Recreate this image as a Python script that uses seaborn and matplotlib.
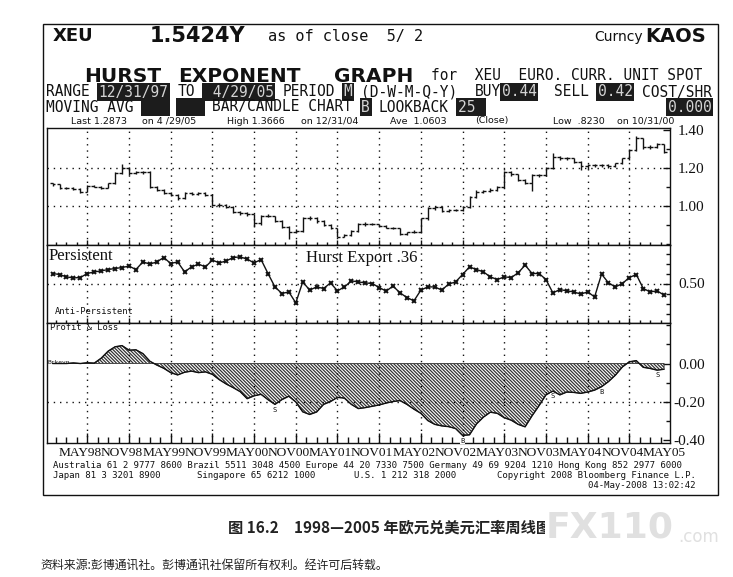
import numpy as np
import pandas as pd
import seaborn as sns
import matplotlib.pyplot as plt
from matplotlib.patches import Rectangle
from matplotlib.ticker import MultipleLocator

# monthly XEU bars, Dec 1997 .. Apr 2005
bar_open = [1.118, 1.112, 1.091, 1.091, 1.088, 1.074, 1.104, 1.100, 1.095, 1.118,
            1.170, 1.200, 1.170, 1.175, 1.179, 1.100, 1.082, 1.065, 1.056, 1.039,
            1.065, 1.061, 1.065, 1.056, 1.003, 1.003, 0.995, 0.965, 0.960, 0.954,
            0.907, 0.947, 0.945, 0.919, 0.889, 0.863, 0.866, 0.933, 0.933, 0.919,
            0.898, 0.881, 0.837, 0.846, 0.867, 0.902, 0.904, 0.902, 0.895, 0.884,
            0.881, 0.849, 0.860, 0.863, 0.933, 0.986, 0.995, 0.972, 0.977, 0.977,
            0.995, 1.047, 1.074, 1.077, 1.082, 1.100, 1.179, 1.165, 1.135, 1.118,
            1.161, 1.161, 1.200, 1.258, 1.249, 1.249, 1.232, 1.210, 1.214, 1.214,
            1.214, 1.210, 1.223, 1.249, 1.293, 1.354, 1.310, 1.310, 1.323]
bar_high = [1.122, 1.115, 1.097, 1.096, 1.092, 1.108, 1.110, 1.104, 1.122, 1.175,
            1.218, 1.205, 1.182, 1.185, 1.182, 1.105, 1.088, 1.070, 1.062, 1.070,
            1.072, 1.070, 1.070, 1.060, 1.012, 1.010, 1.000, 0.970, 0.966, 0.958,
            0.952, 0.955, 0.948, 0.923, 0.893, 0.875, 0.940, 0.945, 0.940, 0.925,
            0.904, 0.885, 0.852, 0.870, 0.910, 0.913, 0.910, 0.906, 0.898, 0.890,
            0.885, 0.862, 0.870, 0.937, 0.992, 1.000, 0.998, 0.982, 0.985, 1.000,
            1.052, 1.080, 1.085, 1.092, 1.106, 1.185, 1.185, 1.168, 1.140, 1.165,
            1.168, 1.205, 1.275, 1.262, 1.258, 1.252, 1.234, 1.220, 1.222, 1.220,
            1.220, 1.226, 1.252, 1.297, 1.367, 1.354, 1.318, 1.330, 1.325]
bar_low = [1.105, 1.088, 1.086, 1.083, 1.067, 1.070, 1.096, 1.090, 1.092, 1.115,
           1.165, 1.160, 1.165, 1.168, 1.095, 1.078, 1.060, 1.050, 1.030, 1.035,
           1.055, 1.058, 1.050, 1.000, 0.995, 0.990, 0.960, 0.952, 0.948, 0.890,
           0.900, 0.938, 0.912, 0.880, 0.823, 0.855, 0.860, 0.925, 0.910, 0.892,
           0.875, 0.833, 0.835, 0.842, 0.862, 0.895, 0.896, 0.890, 0.880, 0.876,
           0.846, 0.845, 0.855, 0.858, 0.925, 0.978, 0.965, 0.968, 0.970, 0.972,
           0.990, 1.042, 1.068, 1.072, 1.075, 1.095, 1.158, 1.130, 1.112, 1.075,
           1.150, 1.155, 1.195, 1.240, 1.240, 1.225, 1.190, 1.195, 1.205, 1.205,
           1.200, 1.205, 1.218, 1.240, 1.288, 1.300, 1.298, 1.302, 1.280]
bar_close = [1.112, 1.091, 1.091, 1.088, 1.074, 1.104, 1.100, 1.095, 1.118, 1.170,
             1.200, 1.170, 1.175, 1.179, 1.100, 1.082, 1.065, 1.056, 1.039, 1.065,
             1.061, 1.065, 1.056, 1.003, 1.003, 0.995, 0.965, 0.960, 0.954, 0.907,
             0.947, 0.945, 0.919, 0.889, 0.863, 0.866, 0.933, 0.933, 0.919, 0.898,
             0.881, 0.837, 0.846, 0.867, 0.902, 0.904, 0.902, 0.895, 0.884, 0.881,
             0.849, 0.860, 0.863, 0.933, 0.986, 0.995, 0.972, 0.977, 0.977, 0.995,
             1.047, 1.074, 1.077, 1.082, 1.100, 1.179, 1.165, 1.135, 1.118, 1.161,
             1.161, 1.200, 1.258, 1.249, 1.249, 1.232, 1.210, 1.214, 1.214, 1.214,
             1.210, 1.223, 1.249, 1.293, 1.354, 1.310, 1.310, 1.323, 1.285]
hurst = [0.550, 0.545, 0.533, 0.528, 0.530, 0.550, 0.558, 0.563, 0.570, 0.575,
         0.580, 0.587, 0.570, 0.608, 0.597, 0.608, 0.630, 0.600, 0.608, 0.558,
         0.583, 0.597, 0.583, 0.617, 0.603, 0.613, 0.630, 0.633, 0.622, 0.603,
         0.620, 0.550, 0.483, 0.450, 0.458, 0.403, 0.508, 0.467, 0.483, 0.475,
         0.503, 0.463, 0.483, 0.513, 0.508, 0.503, 0.500, 0.480, 0.462, 0.487,
         0.453, 0.430, 0.413, 0.467, 0.483, 0.483, 0.467, 0.497, 0.508, 0.545,
         0.583, 0.570, 0.558, 0.533, 0.520, 0.533, 0.530, 0.553, 0.592, 0.550,
         0.550, 0.520, 0.453, 0.470, 0.463, 0.458, 0.447, 0.458, 0.433, 0.547,
         0.503, 0.483, 0.500, 0.530, 0.545, 0.475, 0.458, 0.463, 0.442]
pnl = [0.000, 0.000, 0.000, 0.003, 0.000, 0.004, 0.002, 0.028, 0.065, 0.088,
       0.094, 0.070, 0.072, 0.052, 0.012, -0.008, -0.025, -0.048, -0.060, -0.046,
       -0.040, -0.048, -0.044, -0.057, -0.085, -0.108, -0.127, -0.148, -0.185, -0.170,
       -0.162, -0.190, -0.215, -0.190, -0.172, -0.202, -0.254, -0.268, -0.255, -0.215,
       -0.200, -0.178, -0.182, -0.215, -0.237, -0.232, -0.225, -0.218, -0.208, -0.200,
       -0.195, -0.215, -0.240, -0.262, -0.300, -0.320, -0.328, -0.332, -0.342, -0.378,
       -0.375, -0.318, -0.282, -0.256, -0.262, -0.285, -0.298, -0.320, -0.333, -0.275,
       -0.222, -0.165, -0.145, -0.165, -0.150, -0.152, -0.157, -0.150, -0.140, -0.122,
       -0.095, -0.061, -0.018, 0.009, 0.015, -0.020, -0.026, -0.035, -0.030]

month_labels = ['MAY98', 'NOV98', 'MAY99', 'NOV99', 'MAY00', 'NOV00', 'MAY01', 'NOV01',
                'MAY02', 'NOV02', 'MAY03', 'NOV03', 'MAY04', 'NOV04', 'MAY05']
signal_month = [32, 59, 72, 79, 87]
signal_text = ['S', 'B', 'S', 'B', 'S']

df = pd.DataFrame({'open': bar_open, 'high': bar_high, 'low': bar_low,
                   'close': bar_close, 'hurst': hurst, 'pnl': pnl})
df['m'] = np.arange(len(df))

W, H = 733, 577
sns.set_theme(style='white')
plt.rcParams['font.family'] = ['DejaVu Sans', 'Noto Sans CJK SC']
plt.rcParams['hatch.linewidth'] = 0.9
MONO = 'DejaVu Sans Mono'
SERIF = 'Liberation Serif'
INK = '#111111'

fig = plt.figure(figsize=(W / 100, H / 100), dpi=100)
fig.patch.set_facecolor('white')


def fx(x):
    return x / W


def fy(y):
    return 1 - y / H


def panel(top, bottom):
    return fig.add_axes([fx(47), fy(bottom), fx(670) - fx(47), fy(top) - fy(bottom)])


ax1 = panel(128, 245)
ax2 = panel(245, 323)
ax3 = panel(323, 443)

grid_x = np.arange(5, 89, 6)
minor_x = np.arange(0.5, 88.6, 1.5)
dot = (0, (1, 3.5))

# price bars
ax1.vlines(df.m, df.low, df.high, color=INK, lw=1)
ax1.hlines(df.open, df.m - 0.4, df.m, color=INK, lw=1)
ax1.hlines(df.close, df.m, df.m + 0.4, color=INK, lw=1)
ax1.set_ylim(0.793, 1.409)
for v in [1.20, 1.00]:
    ax1.axhline(v, color=INK, lw=1, ls=dot)

# hurst
sns.lineplot(data=df, x='m', y='hurst', ax=ax2, color=INK, linewidth=1,
             marker='x', markersize=3.5, markeredgewidth=1.4, markeredgecolor=INK)
ax2.set_ylim(0.3025, 0.6925)
ax2.axhline(0.5, color=INK, lw=1, ls=dot)

# profit & loss
ax3.fill_between(df.m, 0, df.pnl, facecolor='none', edgecolor='#333333',
                 hatch='\\\\\\\\\\\\\\\\\\\\', lw=0.6, interpolate=True)
sns.lineplot(data=df, x='m', y='pnl', ax=ax3, color=INK, linewidth=1)
ax3.set_ylim(-0.418, 0.213)
ax3.axhline(-0.2, color=INK, lw=1, ls=dot)
for m, s in zip(signal_month, signal_text):
    ax3.text(m, df.pnl[m] - 0.012, s, fontsize=5, family=MONO, ha='center', va='top', color=INK,
             bbox=dict(facecolor='white', edgecolor='none', pad=0.3))

right_ticks = {
    ax1: ([1.40, 1.20, 1.00], ['1.40', '1.20', '1.00'], 0.1),
    ax2: ([0.50], ['0.50'], 0.05),
    ax3: ([0.00, -0.20, -0.40], ['0.00', '-0.20', '-0.40'], 0.1),
}
for ax in [ax1, ax2, ax3]:
    ax.set_xlim(-0.8, 88.85)
    ax.set_xlabel('')
    ax.set_ylabel('')
    ax.set_facecolor('white')
    for sp in ax.spines.values():
        sp.set_color(INK)
        sp.set_linewidth(1)
    for v in grid_x:
        ax.axvline(v, color=INK, lw=1, ls=dot)
    ax.set_xticks(grid_x)
    ax.set_xticks(minor_x, minor=True)
    ax.tick_params(axis='x', which='both', bottom=True, top=False, labelbottom=False,
                   direction='in' if ax is ax3 else 'inout', color=INK, width=1)
    ax.tick_params(axis='x', which='major', length=7)
    ax.tick_params(axis='x', which='minor', length=4)
    vals, labs, minor = right_ticks[ax]
    ax.yaxis.tick_right()
    ax.set_yticks(vals)
    ax.set_yticklabels(labs, ha='right', family=SERIF, fontsize=11, color=INK)
    ax.yaxis.set_minor_locator(MultipleLocator(minor))
    ax.tick_params(axis='y', which='both', left=False, right=True, labelleft=False,
                   labelright=True, direction='in', color=INK, width=1, pad=25)
    ax.tick_params(axis='y', which='major', length=5)
    ax.tick_params(axis='y', which='minor', length=3)

for m, lab in zip(np.arange(4, 89, 6), month_labels):
    ax3.text(m, -0.085, lab, transform=ax3.get_xaxis_transform(), ha='center', va='center',
             family=SERIF, fontsize=9.6, color=INK)

# panel notes
fig.text(fx(49), fy(256), 'Persistent', family=SERIF, fontsize=12, va='center', color=INK)
fig.text(fx(306), fy(258), 'Hurst Export .36', family=SERIF, fontsize=12, va='center', color=INK)
fig.text(fx(55), fy(312), 'Anti-Persistent', family=MONO, fontsize=6.3, va='center', color=INK)
fig.text(fx(50), fy(328), 'Profit & Loss', family=MONO, fontsize=6.3, va='center', color=INK)
fig.text(fx(48), fy(363), 'Brkevn', family=MONO, fontsize=4.5, va='center', color=INK)

# outer frame
fig.add_artist(Rectangle((fx(43), fy(495)), fx(718) - fx(43), fy(24) - fy(495),
                         transform=fig.transFigure, fill=False, lw=1, ec=INK))

# header
fig.text(fx(53), fy(36), 'XEU', weight='bold', fontsize=13, va='center', color=INK)
fig.text(fx(150), fy(36), '1.5424Y', weight='bold', fontsize=15, va='center', color=INK)
fig.text(fx(268), fy(37), 'as of close  5/ 2', family=MONO, fontsize=11, va='center', color=INK)
fig.text(fx(594), fy(37), 'Curncy', fontsize=10, va='center', color=INK)
fig.text(fx(645), fy(36), 'KAOS', weight='bold', fontsize=14, va='center', color=INK)

fig.text(fx(84), fy(76), 'HURST', weight='bold', fontsize=14.5, va='center', color=INK)
fig.text(fx(178), fy(76), 'EXPONENT', weight='bold', fontsize=14.5, va='center', color=INK)
fig.text(fx(334), fy(76), 'GRAPH', weight='bold', fontsize=14.5, va='center', color=INK)

cw = 8.76
mono_size = cw / 0.602 * 0.72


def put_row(y, segments):
    for col, txt, inv in segments:
        kw = dict(family=MONO, fontsize=mono_size, va='center', color=INK)
        if inv:
            kw['color'] = '#d4d4d4'
            kw['bbox'] = dict(facecolor='#1c1c1c', edgecolor='none', pad=1.2)
        fig.text(fx(46 + col * cw), fy(y), txt, **kw)


put_row(76, [(44, 'for  XEU  EURO. CURR. UNIT SPOT', False)])
put_row(92, [(0, 'RANGE', False), (6, '12/31/97', True), (15, 'TO', False),
             (18, ' 4/29/05', True), (27, 'PERIOD', False), (34, 'M', True),
             (36, '(D-W-M-Q-Y)', False), (49, 'BUY', False), (52, '0.44', True),
             (58, 'SELL', False), (63, '0.42', True), (68, 'COST/SHR', False)])
put_row(107, [(0, 'MOVING AVG', False), (11, '   ', True), (15, '   ', True),
              (19, 'BAR/CANDLE CHART', False), (36, 'B', True), (38, 'LOOKBACK', False),
              (47, '25 ', True), (71, '0.000', True)])

stats = [(71, 'Last 1.2873'), (142, 'on 4 /29/05'), (227, 'High 1.3666'), (301, 'on 12/31/04'),
         (390, 'Ave  1.0603'), (475, '(Close)'), (553, 'Low  .8230'), (617, 'on 10/31/00')]
for x, t in stats:
    fig.text(fx(x), fy(121), t, fontsize=6.8, va='center', color=INK)

# footer
fig.text(fx(53), fy(466), 'Australia 61 2 9777 8600 Brazil 5511 3048 4500 Europe 44 20 7330 7500 '
         'Germany 49 69 9204 1210 Hong Kong 852 2977 6000', family=MONO, fontsize=6.5,
         va='center', color=INK)
fig.text(fx(53), fy(476), 'Japan 81 3 3201 8900', family=MONO, fontsize=6.5, va='center', color=INK)
fig.text(fx(197), fy(476), 'Singapore 65 6212 1000', family=MONO, fontsize=6.5, va='center', color=INK)
fig.text(fx(354), fy(476), 'U.S. 1 212 318 2000', family=MONO, fontsize=6.5, va='center', color=INK)
fig.text(fx(696), fy(476), 'Copyright 2008 Bloomberg Finance L.P.', family=MONO, fontsize=6.5,
         ha='right', va='center', color=INK)
fig.text(fx(696), fy(486), '04-May-2008 13:02:42', family=MONO, fontsize=6.5,
         ha='right', va='center', color=INK)

# caption and source
fig.text(fx(228), fy(527), '图 16.2　1998—2005 年欧元兑美元汇率周线图',
         family=['Noto Sans CJK SC', 'DejaVu Sans'], weight='bold', fontsize=11,
         va='center', color='#222222')
fig.text(fx(40), fy(565), '资料来源:彭博通讯社。彭博通讯社保留所有权利。经许可后转载。',
         family=['Noto Sans CJK SC', 'DejaVu Sans'], fontsize=8.6, va='center', color='#222222')
fig.text(fx(546), fy(527), 'FX110', weight='bold', fontsize=26, va='center', color='#e0e0e0',
         bbox=dict(facecolor='white', edgecolor='none', pad=1))
fig.text(fx(678), fy(537), '.com', fontsize=12, va='center', color='#e0e0e0')

fig.savefig('out.png', dpi=100)
